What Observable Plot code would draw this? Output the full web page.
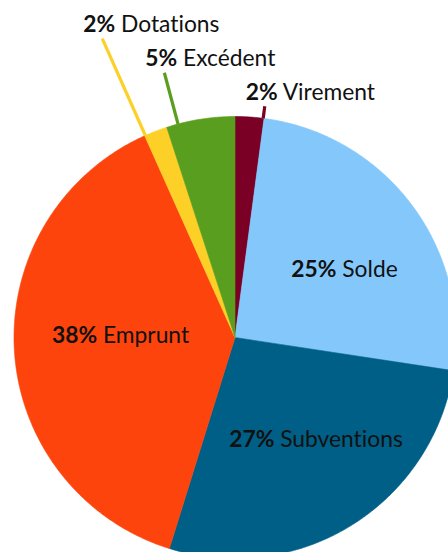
<!DOCTYPE html>
<html><head><meta charset="utf-8">
<script src="https://cdn.jsdelivr.net/npm/d3@7"></script>
<script src="https://cdn.jsdelivr.net/npm/@observablehq/plot@0.6"></script>
<style>html,body{margin:0;padding:0;background:#fff;overflow:hidden}</style>
</head><body><div id="chart"></div>
<script>
// ---- data (clockwise from 12 o'clock) ----
const categories = ["Virement", "Solde", "Subventions", "Emprunt", "Dotations", "Excédent"];
const shares = [2.1, 25.3, 27.4, 38.5, 1.7, 5.0];
const percentLabels = ["2%", "25%", "27%", "38%", "2%", "5%"];
const colors = ["#7a0026", "#84c8fb", "#005f86", "#fc440c", "#fdd028", "#5a9e1f"];
const outsideLabels = ["Virement", "Dotations", "Excédent"];

// ---- layout ----
const W = 448, H = 552, R = 221, CX = 234.5, CY = 337;
const FONT = "Lato, 'Open Sans', sans-serif", FS = 22.8;
const leader = {Virement: {frac: 0.97, len: 1.055}, "Excédent": {frac: 0.17, len: 1.24}, Dotations: {frac: 0.03, len: 1.48}};
const innerNudge = {Solde: [7, 9], Subventions: [13, -6], Emprunt: [13.5, -9.5]}; // px

const total = d3.sum(shares);
let acc = 0;
const slices = categories.map((c, i) => {
  const a0 = acc / total * 2 * Math.PI; acc += shares[i];
  const a1 = acc / total * 2 * Math.PI;
  return {c, i, a0, a1, label: percentLabels[i] + " " + c};
});
const polar = (a, r) => ({x: r * Math.sin(a), y: r * Math.cos(a)});

const polyPts = [];
for (const s of slices) {
  polyPts.push({c: s.c, x: 0, y: 0});
  const n = Math.max(2, Math.ceil((s.a1 - s.a0) / (Math.PI / 360)));
  for (let k = 0; k <= n; k++) {
    const p = polar(s.a0 + (s.a1 - s.a0) * k / n, 1);
    polyPts.push({c: s.c, ...p});
  }
  polyPts.push({c: s.c, x: 0, y: 0});
}

const leaders = slices.filter(s => outsideLabels.includes(s.c)).map(s => {
  const L = leader[s.c];
  const a = s.a0 + (s.a1 - s.a0) * L.frac;
  const p1 = polar(a, 1), p2 = polar(a, L.len);
  return {c: s.c, label: s.label, x1: p1.x, y1: p1.y, x2: p2.x, y2: p2.y};
});

const inner = slices.filter(s => !outsideLabels.includes(s.c)).map(s => {
  const p = polar((s.a0 + s.a1) / 2, 0.58);
  const nd = innerNudge[s.c] || [0, 0];
  return {c: s.c, label: s.label, x: p.x + nd[0] / R, y: p.y - nd[1] / R};
});

const xDomain = [(0 - CX) / R, (W - CX) / R];
const yDomain = [(CY - H) / R, CY / R];

const svg = Plot.plot({
  width: W, height: H,
  margin: 0,
  x: {domain: xDomain, axis: null},
  y: {domain: yDomain, axis: null},
  color: {domain: categories, range: colors},
  style: {fontFamily: FONT, background: "#fff", overflow: "hidden"},
  marks: [
    Plot.line(polyPts, {x: "x", y: "y", z: "c", fill: "c", stroke: "c", strokeWidth: 0.6, curve: "linear"}),
    Plot.link(leaders, {x1: "x1", y1: "y1", x2: "x2", y2: "y2", stroke: "c", strokeWidth: 3.2, strokeLinecap: "butt"}),
    Plot.text(leaders, {x: "x2", y: "y2", text: "label", textAnchor: "start", dx: -19, dy: -14, fontSize: FS, fill: "#111"}),
    Plot.text(inner, {x: "x", y: "y", text: "label", textAnchor: "middle", fontSize: FS, fill: "#111"})
  ]
});
svg.style.fontVariantLigatures = "none";

const ns = "http://www.w3.org/2000/svg";
svg.querySelectorAll("text").forEach(t => {
  const s = t.textContent; const k = s.indexOf(" ");
  if (k < 0) return;
  while (t.firstChild) t.removeChild(t.firstChild);
  const b = document.createElementNS(ns, "tspan");
  b.setAttribute("font-weight", "700"); b.style.fontWeight = "700";
  b.textContent = s.slice(0, k);
  const r = document.createElementNS(ns, "tspan");
  r.textContent = "\u00a0" + s.slice(k + 1);
  t.append(b, r);
});
document.getElementById("chart").append(svg);
</script>
</body></html>
